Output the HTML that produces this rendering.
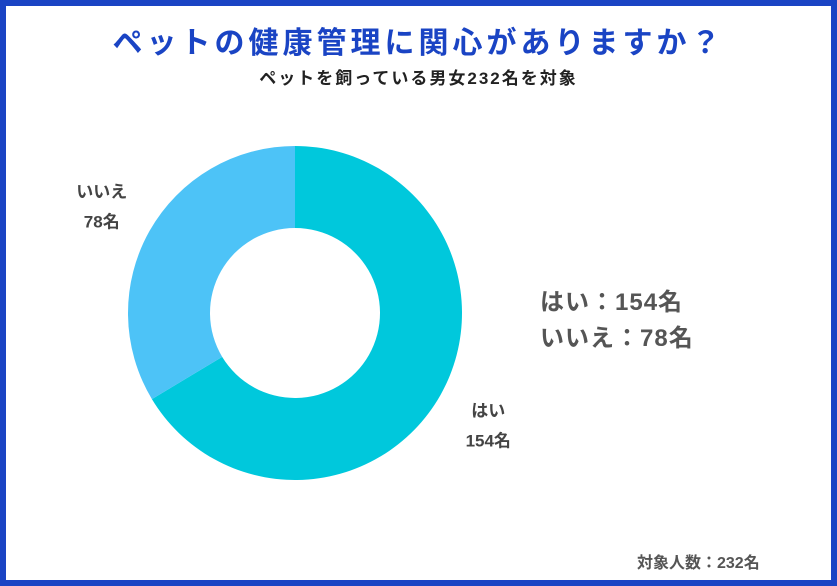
<!DOCTYPE html>
<html><head><meta charset="utf-8">
<style>
body{margin:0;width:837px;height:586px;overflow:hidden;background:#fff;font-family:"Liberation Sans","Noto Sans CJK JP",sans-serif;}
#frame{position:absolute;left:0;top:0;width:825px;height:574px;border:6px solid #1a44c4;background:#fff;}
.t{position:absolute;white-space:nowrap;font-weight:bold;}
</style></head><body>
<div id="frame"></div>
<div class="t" style="left:0;width:837px;text-align:center;top:18px;font-size:30px;letter-spacing:4px;color:#1a44c4;">ペットの健康管理に関心がありますか？</div>
<div class="t" style="left:0;width:837px;text-align:center;top:64px;font-size:17px;letter-spacing:2px;color:#222;">ペットを飼っている男女232名を対象</div>
<svg id="chart" width="837" height="586" style="position:absolute;left:0;top:0"></svg>
<div class="t" style="left:540px;top:282px;font-size:24px;letter-spacing:1px;color:#555;">はい：154名</div>
<div class="t" style="left:540px;top:318px;font-size:24px;letter-spacing:1px;color:#555;">いいえ：78名</div>
<div class="t" style="left:637px;top:549px;font-size:16px;color:#555;">対象人数：232名</div>
<script>
const categories=["はい","いいえ"];
const values=[154,78];
const colors=["#00c8dc","#4dc3f7"];
const cx=295,cy=313,R=167,r=85;
const svg=document.getElementById('chart');
const ns="http://www.w3.org/2000/svg";
const total=values.reduce((a,b)=>a+b,0);
function pt(a,rad){return [cx+rad*Math.sin(a),cy-rad*Math.cos(a)];}
let start=0;
values.forEach((v,i)=>{
  const ang=v/total*2*Math.PI, end=start+ang;
  const large=ang>Math.PI?1:0;
  const [x1,y1]=pt(start,R),[x2,y2]=pt(end,R),[x3,y3]=pt(end,r),[x4,y4]=pt(start,r);
  const p=document.createElementNS(ns,'path');
  p.setAttribute('d',`M${x1},${y1}A${R},${R} 0 ${large} 1 ${x2},${y2}L${x3},${y3}A${r},${r} 0 ${large} 0 ${x4},${y4}Z`);
  p.setAttribute('fill',colors[i]);
  
  
  svg.appendChild(p);
  const mid=start+ang/2;
  const [lx,ly]=pt(mid,R+55);
  [categories[i],values[i]+"名"].forEach((s,j)=>{
    const t=document.createElementNS(ns,'text');
    t.setAttribute('x',lx);t.setAttribute('y',ly-6+j*30);
    t.setAttribute('text-anchor','middle');
    t.setAttribute('font-size','17');t.setAttribute('font-weight','bold');t.setAttribute('fill','#444');
    t.setAttribute('font-family','"Liberation Sans","Noto Sans CJK JP",sans-serif');
    t.textContent=s;
    
    
    svg.appendChild(t);
  });
  start=end;
});
</script>
</body></html>
